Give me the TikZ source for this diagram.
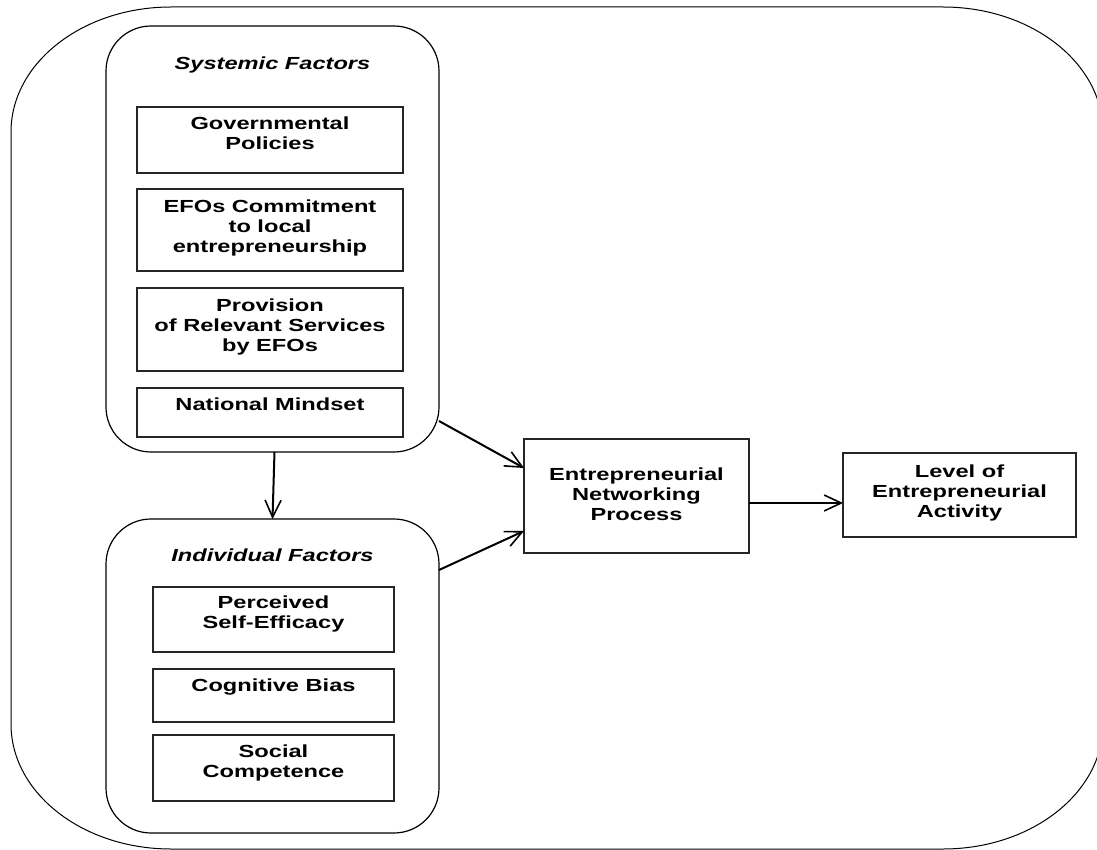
\documentclass[tikz,border=0pt]{standalone}
\usepackage{fontspec}
\setmainfont{Liberation Sans}[FakeStretch=1.35]
\usetikzlibrary{arrows.meta,calc}
\begin{document}
\begin{tikzpicture}[x=1pt,y=-1pt,
  every node/.style={inner sep=0pt,outer sep=0pt},
  group/.style={draw=black,line width=1.2pt,rounded corners=45pt,anchor=north west},
  item/.style={draw=black!85,line width=1.2pt,anchor=north west},
  txt/.style={font=\fontsize{17.5}{20}\selectfont\bfseries,align=center},
  ttl/.style={font=\fontsize{17.5}{20}\selectfont\bfseries\itshape,anchor=base},
  arr/.style={line width=2pt,-{Straight Barb[length=17pt,width=16pt,line width=1.6pt]}}
]
\useasboundingbox (0,0) rectangle (1097,850);
\clip (0,0) rectangle (1097,850);
% outer frame
\draw[line width=1pt] (11,132) arc[start angle=180,end angle=270,x radius=160,y radius=125]
  -- (943,7) arc[start angle=270,end angle=360,x radius=160,y radius=125]
  -- (1103,724) arc[start angle=0,end angle=90,x radius=160,y radius=125]
  -- (171,849) arc[start angle=90,end angle=180,x radius=160,y radius=125] -- cycle;

% systemic group
\node[group,minimum width=333pt,minimum height=426pt] (sys) at (106,26) {};
\node[ttl] (systitle) at ([yshift=-44pt]sys.north) {Systemic Factors};
\node[item,minimum width=266pt,minimum height=66pt] (gov) at (137,107) {};
\node[txt,anchor=north] (govt) at ([yshift=-10pt]gov.north) {Governmental\\Policies};
\node[item,minimum width=266pt,minimum height=82pt] (efo) at (137,189) {};
\node[txt,anchor=north] (efot) at ([yshift=-11pt]efo.north) {EFOs Commitment\\to local\\entrepreneurship};
\node[item,minimum width=266pt,minimum height=83pt] (prov) at (137,288) {};
\node[txt,anchor=north] (provt) at ([yshift=-11pt]prov.north) {Provision\\of Relevant Services\\by EFOs};
\node[item,minimum width=266pt,minimum height=49pt] (nat) at (137,388) {};
\node[txt,anchor=north] (natt) at ([yshift=-10pt]nat.north) {National Mindset};

% individual group
\node[group,minimum width=333pt,minimum height=314pt] (ind) at (106,519) {};
\node[ttl] (indtitle) at ([yshift=-42pt]ind.north) {Individual Factors};
\node[item,minimum width=241pt,minimum height=65pt] (perc) at (153,587) {};
\node[txt,anchor=north] (perct) at ([yshift=-9pt]perc.north) {Perceived\\Self-Efficacy};
\node[item,minimum width=241pt,minimum height=53pt] (cog) at (153,669) {};
\node[txt,anchor=north] (cogt) at ([yshift=-10pt]cog.north) {Cognitive Bias};
\node[item,minimum width=241pt,minimum height=66pt] (soc) at (153,735) {};
\node[txt,anchor=north] (soct) at ([yshift=-10pt]soc.north) {Social\\Competence};

% process and outcome
\node[item,minimum width=225pt,minimum height=114pt] (enp) at (524,439) {};
\node[txt] (enpt) at ([yshift=2pt]enp.center) {Entrepreneurial\\Networking\\Process};
\node[item,minimum width=233pt,minimum height=84pt] (lvl) at (843,453) {};
\node[txt] (lvlt) at ([yshift=2pt]lvl.center) {Level of\\Entrepreneurial\\Activity};

% connectors
\draw[arr] ([xshift=2pt]sys.south) -- ([xshift=0pt]ind.north);
\draw[arr] ([yshift=31pt]sys.south east) -- ([yshift=-29pt]enp.north west);
\draw[arr] ([yshift=-51pt]ind.north east) -- ([yshift=-92pt]enp.north west);
\draw[arr] ([yshift=-7pt]enp.east) -- ([yshift=-8pt]lvl.west);
\end{tikzpicture}
\end{document}
